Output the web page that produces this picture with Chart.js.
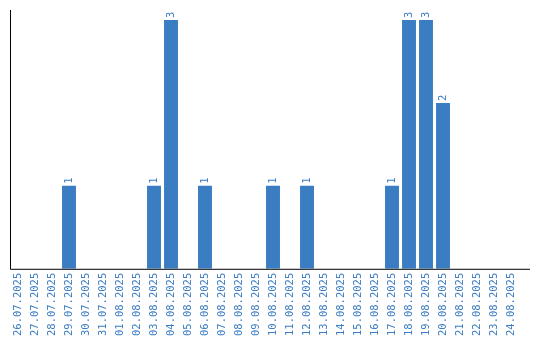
<!DOCTYPE html>
<html>
<head>
<meta charset="utf-8">
<script src="https://cdn.jsdelivr.net/npm/chart.js@4"></script>
<style>
  html, body { margin: 0; padding: 0; background: #fff; }
  #wrap { width: 540px; height: 340px; }
</style>
</head>
<body>
<div id="wrap"><canvas id="chart" width="540" height="340"></canvas></div>
<script>
// --- Daten ---
const days = [
    "26.07.2025", "27.07.2025", "28.07.2025", "29.07.2025", "30.07.2025",
    "31.07.2025", "01.08.2025", "02.08.2025", "03.08.2025", "04.08.2025",
    "05.08.2025", "06.08.2025", "07.08.2025", "08.08.2025", "09.08.2025",
    "10.08.2025", "11.08.2025", "12.08.2025", "13.08.2025", "14.08.2025",
    "15.08.2025", "16.08.2025", "17.08.2025", "18.08.2025", "19.08.2025",
    "20.08.2025", "21.08.2025", "22.08.2025", "23.08.2025", "24.08.2025"
];
const counts = [0, 0, 0, 1, 0, 0, 0, 0, 1, 3, 0, 1, 0, 0, 0, 1, 0, 1, 0, 0, 0, 0, 1, 3, 3, 2, 0, 0, 0, 0];

const blue = "#3b7dc2";
const monoFont = "'DejaVu Sans Mono', monospace";

// Achsenlinien selbst zeichnen (y-Achse ragt oben etwas raus, x-Achse rechts)
const axisLines = {
    id: "axisLines",
    afterDraw(chart) {
        const ctx = chart.ctx;
        const area = chart.chartArea;
        ctx.save();
        ctx.strokeStyle = "#000";
        ctx.lineWidth = 1;
        ctx.beginPath();
        ctx.moveTo(10.5, 10);
        ctx.lineTo(10.5, area.bottom + 0.5);
        ctx.lineTo(530, area.bottom + 0.5);
        ctx.stroke();
        ctx.restore();
    }
};

// Werte ueber den Balken, gedreht
const valueLabels = {
    id: "valueLabels",
    afterDatasetsDraw(chart) {
        const ctx = chart.ctx;
        const meta = chart.getDatasetMeta(0);
        ctx.save();
        ctx.fillStyle = blue;
        ctx.font = "10.5px " + monoFont;
        ctx.textAlign = "left";
        ctx.textBaseline = "middle";
        meta.data.forEach((bar, i) => {
            const v = counts[i];
            if (!v) return;
            ctx.save();
            ctx.translate(bar.x, bar.y - 2);
            ctx.rotate(-Math.PI / 2);
            ctx.fillText(String(v), 0, 0);
            ctx.restore();
        });
        ctx.restore();
    }
};

new Chart(document.getElementById("chart").getContext("2d"), {
    type: "bar",
    data: {
        labels: days,
        datasets: [{
            data: counts,
            backgroundColor: blue,
            borderWidth: 0,
            barPercentage: 0.82,
            categoryPercentage: 1.0
        }]
    },
    options: {
        responsive: false,
        animation: false,
        layout: { padding: { left: 9.5, right: 20.5, top: 20, bottom: 0 } },
        plugins: {
            legend: { display: false },
            tooltip: { enabled: false }
        },
        scales: {
            x: {
                grid: { display: false, drawTicks: false },
                border: { display: false },
                ticks: {
                    color: blue,
                    font: { family: monoFont, size: 10.5 },
                    minRotation: 90,
                    maxRotation: 90,
                    autoSkip: false,
                    padding: 4
                }
            },
            y: {
                display: false,
                min: 0,
                max: 3
            }
        }
    },
    plugins: [axisLines, valueLabels]
});
</script>
</body>
</html>
